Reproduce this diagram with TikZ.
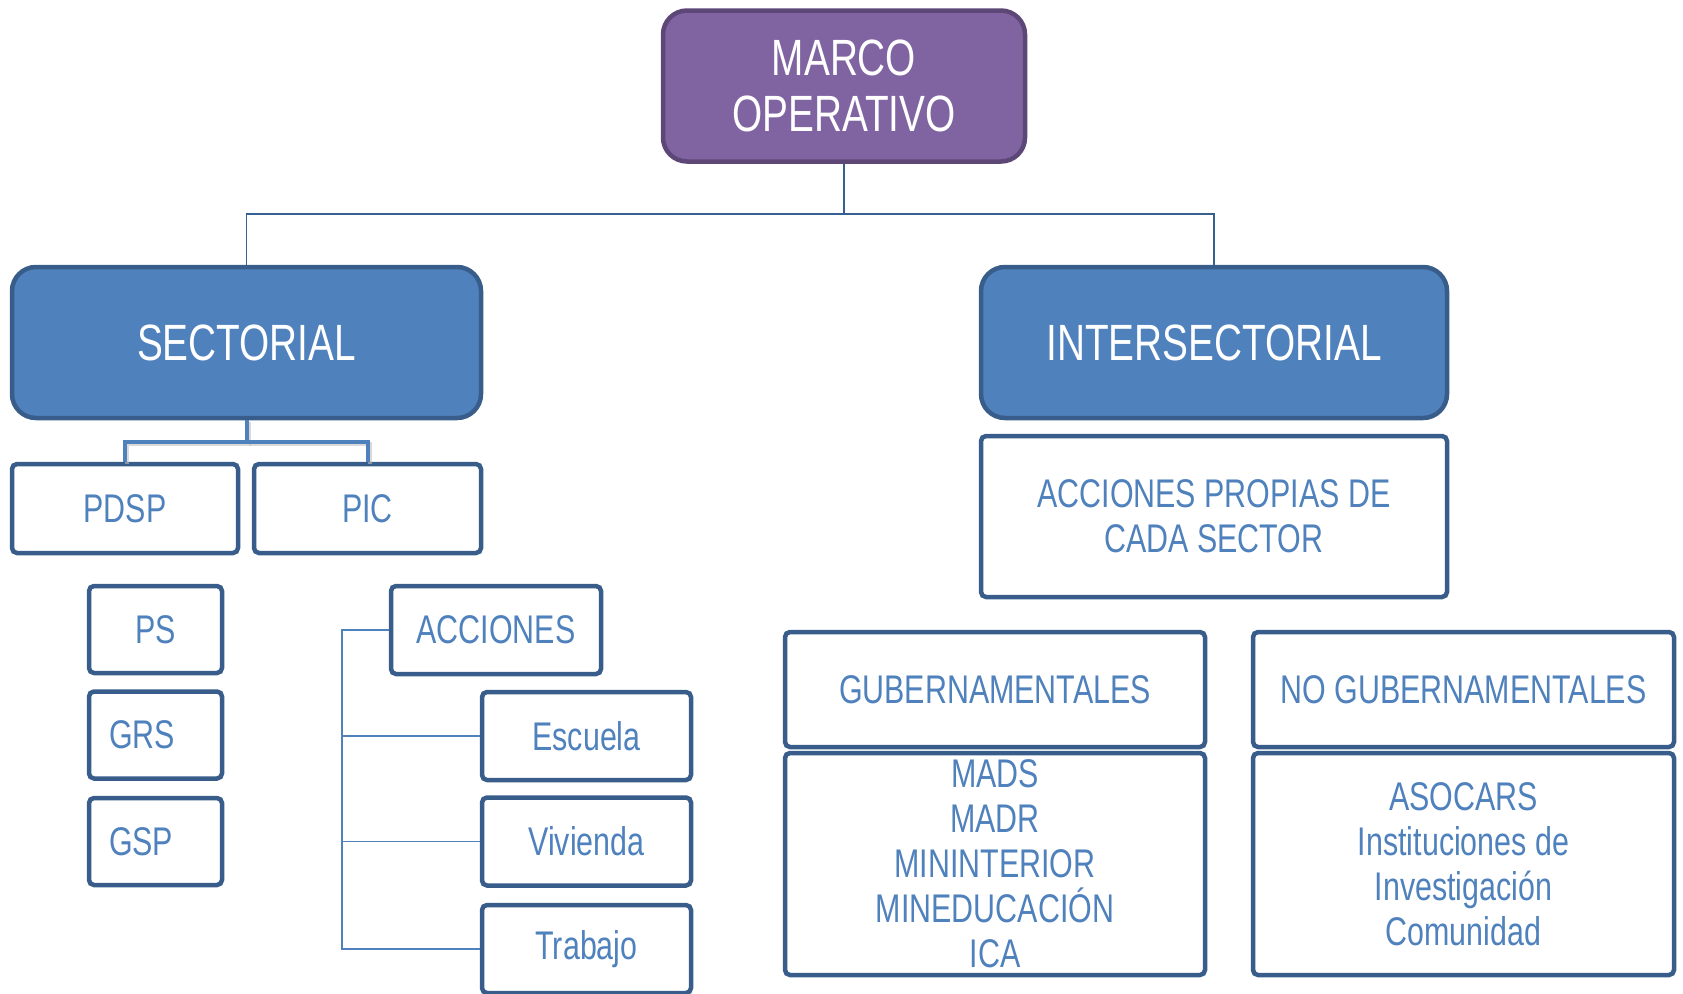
\documentclass[tikz,border=0pt]{standalone}
\usepackage{fontspec}
\setmainfont{Liberation Sans}[FakeStretch=0.76]
\definecolor{azul}{HTML}{4F81BD}
\definecolor{borde}{HTML}{385D8A}
\definecolor{morado}{HTML}{8064A2}
\definecolor{bordemorado}{HTML}{5C4776}
\definecolor{linea}{HTML}{35608F}

\begin{document}
\begin{tikzpicture}[x=1pt,y=-1pt]
\tikzstyle{titulo} = [draw=borde, line width=4.5pt, rounded corners=24pt, fill=azul, text=white, align=center, font=\fontsize{51}{56}\selectfont, minimum width=466pt, minimum height=151pt, inner sep=0]
\tikzstyle{caja} = [draw=borde, line width=4.5pt, rounded corners=5pt, fill=white, text=azul, align=center, font=\fontsize{40}{45}\selectfont, inner sep=0]
\tikzstyle{chica} = [caja, minimum width=133pt, minimum height=87pt]
\tikzstyle{izq} = [text width=93pt, align=left]
\tikzstyle{sombra} = [black!25, line width=4pt, opacity=0.6, transform canvas={shift={(2,2)}}]

\useasboundingbox (0,0) rectangle (1683,993);

% Raiz
\node[titulo, draw=bordemorado, fill=morado, minimum width=362pt] (marco) at (844,86) {MARCO\\OPERATIVO};

% Ramas
\node[titulo, minimum width=469pt] (sect) at (246.5,342.5) {SECTORIAL};
\node[titulo] (inter) at (1214,342.5) {INTERSECTORIAL};

\draw[linea, line width=1.8pt] (marco.south) -- (844,214) -| (sect.north);
\draw[linea, line width=1.8pt] (844,214) -| (inter.north);

% --- Sectorial ---------------------------------------------------------
\node[caja, minimum width=226pt, minimum height=89pt] (pdsp) at (125,508.5) {PDSP};
\node[caja, minimum width=227pt, minimum height=89pt] (pic) at (367.5,508.5) {PIC};
\draw[sombra] (sect.south) -- (246.5,442) -| (pdsp.north);
\draw[sombra] (246.5,442) -| (pic.north);
\draw[azul, line width=4pt] (sect.south) -- (246.5,442) -| (pdsp.north);
\draw[azul, line width=4pt] (246.5,442) -| (pic.north);

% PS, GRS, GSP
\node[chica] (ps) at (155.5,629.5) {PS};
\node[chica, izq] (grs) at (155.5,735) {GRS};
\node[chica, izq] (gsp) at (155.5,841.5) {GSP};

% acciones y sus hijos
\node[caja, minimum width=210pt, minimum height=88pt] (acciones) at (496,630) {ACCIONES};
\foreach \nombre/\y in {Escuela/736, Vivienda/841.5, Trabajo/949} {
  \node[caja, minimum width=209pt, minimum height=88pt] (\nombre) at (586.5,\y) {\nombre};
}
\draw[azul, line width=1.8pt] (acciones.west) -| (342,0 |- Trabajo.west) -- (Trabajo.west);
\foreach \target in {Escuela,Vivienda} {
  \draw[azul, line width=1.8pt] (342,0 |- \target.west) -- (\target.west);
}

% --- Intersectorial ----------------------------------------------------
\node[caja, minimum width=466pt, minimum height=161pt] (propias) at (1214,516.5) {ACCIONES PROPIAS DE\\CADA SECTOR};

\node[caja, minimum width=420pt, minimum height=115pt] (gub) at (995,689.5) {GUBERNAMENTALES};
\node[caja, minimum width=420pt, minimum height=222pt] (listagub) at (995,864) {MADS\\MADR\\MININTERIOR\\MINEDUCACIÓN\\ICA};

\node[caja, minimum width=421pt, minimum height=115pt] (nogub) at (1463.5,689.5) {NO GUBERNAMENTALES};
\node[caja, minimum width=421pt, minimum height=222pt] (listanogub) at (1463.5,864) {ASOCARS\\Instituciones de\\Investigación\\Comunidad};

\end{tikzpicture}
\end{document}
